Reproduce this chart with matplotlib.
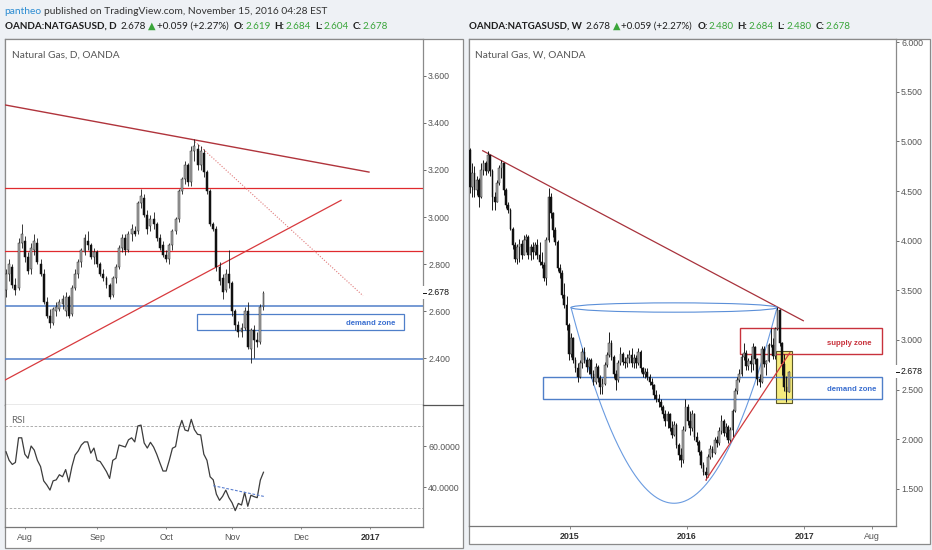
import numpy as np
import pandas as pd
import matplotlib
matplotlib.use("Agg")
import matplotlib.pyplot as plt
from matplotlib.patches import Rectangle, Ellipse
from matplotlib.lines import Line2D
import matplotlib.ticker as mticker

plt.rcParams['font.family'] = ['Liberation Sans', 'DejaVu Sans']

# ---------------- data: daily (left) ----------------
daily_start, daily_end = '2016-07-22', '2016-11-15'
daily_open = [2.69, 2.76, 2.79, 2.71, 2.70, 2.89, 2.90, 2.83, 2.78, 2.86,
              2.89, 2.80, 2.76, 2.64, 2.58, 2.55, 2.60, 2.61, 2.63, 2.60,
              2.66, 2.59, 2.70, 2.76, 2.81, 2.85, 2.90, 2.88, 2.83, 2.85,
              2.80, 2.76, 2.74, 2.71, 2.67, 2.74, 2.79, 2.87, 2.91, 2.86,
              2.93, 2.94, 2.94, 3.06, 3.08, 3.01, 2.96, 2.99, 2.97, 2.91,
              2.88, 2.84, 2.82, 2.88, 2.94, 2.99, 3.11, 3.16, 3.22, 3.15,
              3.28, 3.29, 3.22, 3.27, 3.19, 3.11, 2.97, 2.95, 2.79, 2.74,
              2.69, 2.76, 2.72, 2.60, 2.54, 2.51, 2.53, 2.60, 2.44, 2.52,
              2.48, 2.47, 2.619]
daily_high = [2.78, 2.82, 2.80, 2.74, 2.91, 2.97, 2.92, 2.85, 2.89, 2.93,
              2.91, 2.82, 2.78, 2.66, 2.61, 2.62, 2.64, 2.65, 2.67, 2.68,
              2.67, 2.71, 2.78, 2.82, 2.87, 2.93, 2.94, 2.89, 2.87, 2.86,
              2.81, 2.78, 2.75, 2.72, 2.75, 2.80, 2.88, 2.93, 2.93, 2.94,
              2.97, 2.96, 3.07, 3.12, 3.10, 3.03, 3.01, 3.02, 2.98, 2.93,
              2.90, 2.86, 2.89, 2.95, 3.00, 3.12, 3.17, 3.24, 3.23, 3.30,
              3.33, 3.31, 3.30, 3.29, 3.20, 3.12, 2.98, 2.96, 2.81, 2.76,
              2.78, 2.86, 2.73, 2.61, 2.56, 2.55, 2.62, 2.64, 2.53, 2.54,
              2.51, 2.63, 2.684]
daily_low = [2.66, 2.73, 2.70, 2.67, 2.69, 2.87, 2.81, 2.76, 2.76, 2.84,
             2.80, 2.75, 2.63, 2.57, 2.53, 2.54, 2.58, 2.60, 2.61, 2.58,
             2.57, 2.58, 2.69, 2.74, 2.79, 2.84, 2.86, 2.82, 2.80, 2.79,
             2.75, 2.73, 2.70, 2.65, 2.66, 2.72, 2.78, 2.85, 2.84, 2.85,
             2.90, 2.92, 2.93, 3.04, 3.00, 2.93, 2.94, 2.95, 2.90, 2.86,
             2.83, 2.81, 2.80, 2.86, 2.93, 2.98, 3.10, 3.14, 3.13, 3.13,
             3.24, 3.20, 3.20, 3.17, 3.10, 2.96, 2.94, 2.77, 2.71, 2.65,
             2.68, 2.70, 2.58, 2.52, 2.49, 2.49, 2.52, 2.44, 2.38, 2.40,
             2.45, 2.46, 2.604]
daily_close = [2.76, 2.80, 2.71, 2.69, 2.89, 2.93, 2.83, 2.77, 2.87, 2.90,
               2.81, 2.76, 2.64, 2.58, 2.55, 2.61, 2.62, 2.64, 2.65, 2.66,
               2.58, 2.70, 2.76, 2.81, 2.86, 2.91, 2.88, 2.83, 2.85, 2.80,
               2.76, 2.74, 2.71, 2.66, 2.74, 2.79, 2.87, 2.91, 2.86, 2.93,
               2.95, 2.93, 3.06, 3.09, 3.01, 2.95, 2.99, 2.97, 2.91, 2.87,
               2.84, 2.82, 2.88, 2.94, 2.99, 3.11, 3.16, 3.22, 3.15, 3.28,
               3.30, 3.22, 3.28, 3.19, 3.11, 2.97, 2.95, 2.79, 2.73, 2.68,
               2.76, 2.72, 2.60, 2.54, 2.51, 2.53, 2.60, 2.45, 2.52, 2.48,
               2.47, 2.62, 2.678]
daily_rsi = [57.2, 53.0, 51.0, 52.0, 64.0, 64.0, 56.0, 54.0, 60.0, 58.0,
             53.0, 50.0, 43.0, 41.0, 38.5, 43.0, 43.5, 46.0, 45.0, 48.5,
             42.5, 50.0, 55.6, 57.6, 60.5, 62.0, 62.0, 56.5, 59.0, 53.0,
             52.4, 50.0, 47.5, 44.2, 53.0, 54.0, 60.5, 60.0, 59.5, 63.0,
             64.0, 62.0, 69.8, 70.2, 61.5, 59.0, 61.8, 59.5, 56.0, 51.8,
             47.8, 47.8, 53.0, 58.9, 59.7, 68.0, 72.5, 67.8, 67.3, 73.0,
             68.0, 65.7, 65.4, 56.0, 53.0, 45.0, 43.5, 36.5, 33.5, 35.5,
             38.5, 34.8, 32.3, 28.5, 32.0, 31.2, 37.4, 30.6, 36.0, 35.3,
             34.8, 43.4, 47.2]
daily_month_labels = ['Aug', 'Sep', 'Oct', 'Nov', 'Dec', '2017']
daily_month_starts = ['2016-08-01', '2016-09-01', '2016-10-01', '2016-11-01', '2016-12-01', '2017-01-01']

# ---------------- data: weekly (right) ----------------
weekly_start = '2014-02-24'
weekly_open = [4.91, 4.54, 4.68, 4.51, 4.61, 4.44, 4.71, 4.78, 4.70, 4.86,
               4.70, 4.44, 4.39, 4.58, 4.73, 4.78, 4.51, 4.36, 4.31, 4.12,
               3.96, 3.82, 3.94, 3.97, 3.86, 4.01, 4.04, 3.86, 3.94, 3.89,
               3.96, 3.86, 3.79, 3.76, 3.62, 4.01, 4.44, 4.28, 4.11, 3.99,
               3.72, 3.67, 3.45, 3.35, 3.15, 2.86, 3.02, 2.80, 2.72, 2.63,
               2.77, 2.88, 2.80, 2.73, 2.80, 2.66, 2.58, 2.73, 2.62, 2.53,
               2.56, 2.75, 2.85, 2.97, 2.83, 2.66, 2.60, 2.77, 2.86, 2.78,
               2.77, 2.82, 2.85, 2.77, 2.82, 2.77, 2.88, 2.72, 2.66, 2.68,
               2.63, 2.58, 2.55, 2.45, 2.41, 2.38, 2.33, 2.25, 2.18, 2.25,
               2.11, 2.04, 2.14, 1.94, 1.84, 1.79, 2.09, 2.33, 2.18, 2.11,
               2.25, 2.02, 1.97, 1.87, 1.74, 1.67, 1.64, 1.82, 1.90, 1.86,
               1.99, 1.96, 2.08, 2.18, 2.06, 2.12, 1.99, 2.09, 2.29, 2.49,
               2.60, 2.66, 2.83, 2.87, 2.74, 2.79, 2.76, 2.93, 2.81, 2.61,
               2.58, 2.91, 2.76, 2.79, 2.95, 2.95, 2.84, 3.11, 3.30, 2.97,
               2.76, 2.53, 2.48]
weekly_high = [4.93, 4.78, 4.75, 4.65, 4.63, 4.78, 4.81, 4.80, 4.90, 4.86,
               4.72, 4.49, 4.61, 4.76, 4.81, 4.78, 4.53, 4.39, 4.33, 4.14,
               3.99, 3.97, 4.02, 4.01, 4.06, 4.07, 4.06, 3.97, 3.99, 3.99,
               4.02, 3.99, 3.89, 3.79, 4.04, 4.53, 4.48, 4.29, 4.14, 4.01,
               3.77, 3.70, 3.57, 3.44, 3.17, 3.07, 3.03, 2.83, 2.77, 2.80,
               2.92, 2.93, 2.83, 2.82, 2.82, 2.70, 2.77, 2.75, 2.65, 2.62,
               2.78, 2.88, 3.08, 3.00, 2.85, 2.70, 2.80, 2.93, 2.88, 2.83,
               2.86, 2.90, 2.92, 2.86, 2.85, 2.92, 2.90, 2.73, 2.72, 2.72,
               2.66, 2.62, 2.56, 2.50, 2.46, 2.41, 2.35, 2.30, 2.28, 2.26,
               2.18, 2.18, 2.16, 1.96, 1.91, 2.13, 2.41, 2.36, 2.28, 2.30,
               2.26, 2.07, 1.99, 1.89, 1.77, 1.72, 1.85, 1.94, 1.93, 2.02,
               2.03, 2.12, 2.24, 2.20, 2.16, 2.14, 2.12, 2.31, 2.52, 2.63,
               2.71, 2.86, 2.97, 2.90, 2.82, 2.85, 2.97, 2.94, 2.82, 2.66,
               2.94, 2.94, 2.80, 2.97, 3.12, 3.02, 3.13, 3.33, 3.31, 2.98,
               2.86, 2.64, 2.684]
weekly_low = [4.48, 4.44, 4.44, 4.46, 4.34, 4.43, 4.66, 4.66, 4.68, 4.65,
              4.31, 4.31, 4.39, 4.56, 4.63, 4.46, 4.33, 4.28, 4.11, 3.92,
              3.79, 3.77, 3.79, 3.82, 3.86, 3.89, 3.82, 3.81, 3.82, 3.86,
              3.82, 3.76, 3.72, 3.59, 3.55, 3.99, 4.23, 4.04, 3.96, 3.69,
              3.62, 3.42, 3.32, 3.10, 2.80, 2.83, 2.77, 2.68, 2.58, 2.62,
              2.72, 2.77, 2.68, 2.66, 2.62, 2.55, 2.56, 2.58, 2.46, 2.46,
              2.55, 2.73, 2.83, 2.80, 2.62, 2.50, 2.58, 2.75, 2.75, 2.72,
              2.73, 2.77, 2.73, 2.72, 2.72, 2.75, 2.68, 2.63, 2.62, 2.60,
              2.55, 2.51, 2.41, 2.38, 2.33, 2.30, 2.21, 2.13, 2.11, 2.08,
              2.01, 2.03, 1.91, 1.79, 1.72, 1.76, 2.08, 2.14, 2.04, 2.08,
              1.99, 1.94, 1.84, 1.71, 1.64, 1.59, 1.62, 1.80, 1.82, 1.85,
              1.92, 1.94, 2.05, 2.03, 2.02, 1.96, 1.97, 2.02, 2.27, 2.46,
              2.58, 2.64, 2.80, 2.70, 2.70, 2.68, 2.70, 2.76, 2.55, 2.53,
              2.57, 2.73, 2.65, 2.78, 2.93, 2.81, 2.81, 3.10, 2.94, 2.65,
              2.49, 2.38, 2.48]
weekly_close = [4.54, 4.68, 4.51, 4.61, 4.44, 4.71, 4.78, 4.70, 4.86, 4.70,
                4.44, 4.39, 4.58, 4.73, 4.78, 4.51, 4.36, 4.31, 4.12, 3.96,
                3.82, 3.94, 3.97, 3.86, 4.01, 4.04, 3.86, 3.94, 3.89, 3.96,
                3.86, 3.79, 3.76, 3.62, 4.01, 4.44, 4.28, 4.11, 3.99, 3.72,
                3.67, 3.45, 3.35, 3.15, 2.86, 3.02, 2.80, 2.72, 2.63, 2.77,
                2.88, 2.80, 2.73, 2.80, 2.66, 2.58, 2.73, 2.62, 2.53, 2.56,
                2.75, 2.85, 2.97, 2.83, 2.66, 2.60, 2.77, 2.86, 2.78, 2.77,
                2.82, 2.85, 2.77, 2.82, 2.77, 2.88, 2.72, 2.66, 2.68, 2.63,
                2.58, 2.55, 2.45, 2.41, 2.38, 2.33, 2.25, 2.18, 2.25, 2.11,
                2.04, 2.14, 1.94, 1.84, 1.79, 2.09, 2.33, 2.18, 2.11, 2.25,
                2.02, 1.97, 1.87, 1.74, 1.67, 1.64, 1.82, 1.90, 1.86, 1.99,
                1.96, 2.08, 2.18, 2.06, 2.12, 1.99, 2.09, 2.29, 2.49, 2.60,
                2.66, 2.83, 2.87, 2.74, 2.79, 2.76, 2.93, 2.81, 2.61, 2.58,
                2.91, 2.76, 2.79, 2.95, 2.95, 2.84, 3.11, 3.30, 2.97, 2.76,
                2.53, 2.48, 2.678]
weekly_tick_labels = ['2015', '2016', '2017', 'Aug']
weekly_tick_dates = ['2015-01-01', '2016-01-01', '2017-01-01', '2017-08-01']
daily_price_ticks = [2.4, 2.6, 2.8, 3.0, 3.2, 3.4, 3.6]
weekly_price_ticks = [1.5, 2.0, 2.5, 3.0, 3.5, 4.0, 4.5, 5.0, 5.5, 6.0]
rsi_ticks = [40, 60]
rsi_bands = [30, 70]

# ---------------- figure ----------------
W, H = 932, 550
fig = plt.figure(figsize=(W / 100, H / 100), dpi=100)
fig.patch.set_facecolor('#eef1f5')
renderer = fig.canvas.get_renderer()
GREEN = '#3aa53a'
GREY_TXT = '#555555'
FRAME = '#8a8a8a'
RED_H = '#e02a2e'
RED_T = '#b0343c'
BLUE = '#4f7fc9'


def rect_px(x0, y0, x1, y1):
    return [x0 / W, 1 - y1 / H, (x1 - x0) / W, (y1 - y0) / H]


def frame(x0, y0, x1, y1):
    fig.patches.append(Rectangle((x0 / W, 1 - y1 / H), (x1 - x0) / W, (y1 - y0) / H,
                                 transform=fig.transFigure, facecolor='white',
                                 edgecolor=FRAME, lw=0.9, zorder=-5))


def hline_px(x0, x1, y, color, lw=0.9):
    fig.lines.append(Line2D([x0 / W, x1 / W], [1 - y / H, 1 - y / H], transform=fig.transFigure,
                            color=color, lw=lw, zorder=3))


frame(5, 39, 463, 548)
frame(469, 39, 930, 544)

HF = ['Liberation Sans Narrow', 'Lato', 'DejaVu Sans']


def text_runs(x0, y, parts, target_w, size0=7.0):
    def build(size):
        x = x0
        objs = []
        for s, col, wt, gap in parts:
            t = fig.text(x / W, 1 - y / H, s, fontsize=size, color=col, fontweight=wt,
                         family=HF, ha='left', va='center')
            bb = t.get_window_extent(renderer=renderer)
            x += bb.width + gap * size / size0
            objs.append(t)
        return x - x0, objs
    w, objs = build(size0)
    for o in objs:
        o.remove()
    build(size0 * target_w / w)


# header
text_runs(4, 11, [('pantheo', '#2b8cd2', 'normal', 3),
                  ('published on TradingView.com, November 15, 2016 04:28 EST', '#333333', 'normal', 0)], 324)


def quote_parts(sym, o, h, l, c):
    k = '#1e1e1e'
    return [(sym, k, 'bold', 4), (f'{c:.3f}', k, 'normal', 2), ('\u25B2', GREEN, 'normal', 1),
            ('+0.059 (+2.27%)', k, 'normal', 5),
            ('O:', k, 'bold', 1), (f'{o:.3f}', GREEN, 'normal', 4),
            ('H:', k, 'bold', 1), (f'{h:.3f}', GREEN, 'normal', 4),
            ('L:', k, 'bold', 1), (f'{l:.3f}', GREEN, 'normal', 4),
            ('C:', k, 'bold', 1), (f'{c:.3f}', GREEN, 'normal', 0)]


text_runs(5, 26.5, quote_parts('OANDA:NATGASUSD, D', daily_open[-1], daily_high[-1],
                               daily_low[-1], daily_close[-1]), 383)
text_runs(469, 26.5, quote_parts('OANDA:NATGASUSD, W', weekly_open[-1], weekly_high[-1],
                                 weekly_low[-1], weekly_close[-1]), 385)

# ---------------- axes ----------------
axL = fig.add_axes(rect_px(5, 39, 423, 405))
axS = fig.add_axes(rect_px(5, 405, 423, 527))
axW = fig.add_axes(rect_px(469, 39, 896, 526))

for ax in (axL, axS, axW):
    ax.set_facecolor('white')
    for s in ax.spines.values():
        s.set_color(FRAME)
        s.set_linewidth(0.9)
axL.spines['bottom'].set_color('#555555')
axS.spines['top'].set_visible(False)
axS.spines['bottom'].set_color('#777777')
axW.spines['bottom'].set_color('#777777')
hline_px(423, 463, 405, '#555555')


def candles(ax, x, o, h, l, c, width, wick_lw):
    x = np.asarray(x, float)
    o, h, l, c = (np.asarray(v, float) for v in (o, h, l, c))
    up = c >= o
    ax.vlines(x, l, h, color='#1a1a1a', lw=wick_lw, zorder=4)
    ax.bar(x[up], (c - o)[up], width, bottom=o[up], color='#a9a9a9',
           edgecolor='#2a2a2a', lw=0.35, zorder=5)
    ax.bar(x[~up], (o - c)[~up], width, bottom=c[~up], color='#111111',
           edgecolor='#111111', lw=0.35, zorder=5)


# ----- left daily -----
ddates = pd.bdate_range(daily_start, daily_end)
xi = np.arange(len(ddates))
candles(axL, xi, daily_open, daily_high, daily_low, daily_close, 0.62, 0.6)
axL.set_xlim(-0.32, 132.8)
axL.set_ylim(2.202, 3.756)

axL.axhline(3.122, color=RED_H, lw=0.9, zorder=3)
axL.axhline(2.856, color=RED_H, lw=0.9, zorder=3)
axL.axhline(2.623, color=BLUE, lw=1.1, zorder=3)
axL.axhline(2.396, color=BLUE, lw=1.1, zorder=3)
axL.plot([-0.3, 115.6], [3.476, 3.191], color=RED_T, lw=1.0, zorder=3)
axL.plot([-0.3, 106.7], [2.308, 3.071], color='#d83a3e', lw=0.9, zorder=3)
axL.plot([60.2, 113.7], [3.320, 2.666], color='#e07a7a', lw=0.8, ls=(0, (1, 1.5)), zorder=3)
axL.add_patch(Rectangle((60.8, 2.519), 66.0, 0.069, facecolor='none', edgecolor=BLUE, lw=0.9, zorder=3))
axL.text(116, 2.550, 'demand zone', color='#3b6fd0', fontsize=5.6, fontweight='bold',
         ha='center', va='center', zorder=6)

axL.tick_params(axis='x', bottom=False, labelbottom=False)
axL.yaxis.tick_right()
axL.set_yticks(daily_price_ticks)
axL.yaxis.set_major_formatter(mticker.FuncFormatter(lambda v, p: f'{v:.3f}'))
axL.tick_params(axis='y', direction='out', length=2.2, width=0.6, color='#555555',
                labelsize=6.3, labelcolor=GREY_TXT, pad=1.5)

# RSI
axS.plot(xi, daily_rsi, color='#3c3c3c', lw=0.9, zorder=4)
for b in rsi_bands:
    axS.axhline(b, color='#a0a0a0', lw=0.6, ls=(0, (3, 2)), zorder=2)
axS.plot([66.0, 82.5], [40.65, 35.3], color='#5a7fd0', lw=0.8, ls=(0, (2.5, 1.5)), zorder=5)
axS.set_xlim(-0.32, 132.8)
axS.set_ylim(20.5, 80)
axS.yaxis.tick_right()
axS.set_yticks(rsi_ticks)
axS.yaxis.set_major_formatter(mticker.FuncFormatter(lambda v, p: f'{v:.4f}'))
axS.tick_params(axis='y', direction='out', length=2.2, width=0.6, color='#555555',
                labelsize=6.3, labelcolor=GREY_TXT, pad=1.5)
all_days = pd.bdate_range(daily_start, '2017-03-31')
mpos = [all_days.searchsorted(pd.Timestamp(m)) for m in daily_month_starts]
axS.set_xticks(mpos)
axS.set_xticklabels(daily_month_labels)
axS.tick_params(axis='x', direction='out', length=1.5, width=0.6, color='#777777',
                labelsize=6.4, labelcolor=GREY_TXT, pad=3.0)
for lab in axS.get_xticklabels():
    if lab.get_text().isdigit():
        lab.set_fontweight('bold')
        lab.set_color('#333333')

# ----- right weekly -----
wdates = pd.date_range(weekly_start, periods=len(weekly_close), freq='W-MON')
wi = np.arange(len(wdates))
axW.set_xlim(-0.45, 189.8)
axW.set_ylim(1.127, 6.031)
axW.add_patch(Rectangle((136.3, 2.363), 7.3, 0.526, facecolor='#f6ec7e', edgecolor='#5a5628',
                        lw=0.8, zorder=2))
candles(axW, wi, weekly_open, weekly_high, weekly_low, weekly_close, 0.78, 0.7)
axW.plot([5.66, 148.5], [4.906, 3.194], color='#a8323c', lw=0.9, zorder=3)
axW.plot([105.1, 142.5], [1.590, 2.872], color='#d03a3e', lw=0.9, zorder=6)
axW.add_patch(Ellipse((90.9, 3.327), 91.8, 0.094, facecolor='none', edgecolor='#5b8fd8', lw=0.8, zorder=3))
cx = np.linspace(45.0, 136.8, 200)
cy = 1.356 + (3.327 - 1.356) * ((cx - 90.9) / 45.9) ** 2
axW.plot(cx, cy, color='#6a9be0', lw=0.8, zorder=3)
axW.add_patch(Rectangle((32.65, 2.403), 151.0, 0.227, facecolor='none', edgecolor=BLUE, lw=1.0, zorder=3))
axW.add_patch(Rectangle((120.4, 2.859), 63.3, 0.265, facecolor='none', edgecolor='#c8323c', lw=1.0, zorder=3))
axW.text(169.0, 2.965, 'supply zone', color='#c8323c', fontsize=5.6, fontweight='bold',
         ha='center', va='center', zorder=6)
axW.text(170.0, 2.505, 'demand zone', color='#3b6fd0', fontsize=5.6, fontweight='bold',
         ha='center', va='center', zorder=6)
axW.yaxis.tick_right()
axW.set_yticks(weekly_price_ticks)
axW.yaxis.set_major_formatter(mticker.FuncFormatter(lambda v, p: f'{v:.3f}'))
axW.tick_params(axis='y', direction='out', length=2.2, width=0.6, color='#555555',
                labelsize=6.3, labelcolor=GREY_TXT, pad=1.5)
wpos = [(pd.Timestamp(d) - wdates[0]).days / 7 for d in weekly_tick_dates]
axW.set_xticks(wpos)
axW.set_xticklabels(weekly_tick_labels)
axW.tick_params(axis='x', direction='out', length=2.2, width=0.6, color='#777777',
                labelsize=6.4, labelcolor=GREY_TXT, pad=2.2)
for lab in axW.get_xticklabels():
    if lab.get_text().isdigit():
        lab.set_fontweight('bold')
        lab.set_color('#333333')

# pane titles
text_runs(12, 55, [('Natural Gas, D, OANDA', '#555555', 'normal', 0)], 108.5)
text_runs(475, 55, [('Natural Gas, W, OANDA', '#555555', 'normal', 0)], 111.5)
fig.text(11 / W, 1 - 420.5 / H, 'RSI', family=HF, fontsize=7.0, color='#666666',
         ha='left', va='center', zorder=6)


# last price markers
def last_marker(ax, val, x_axis_px):
    ypx = ax.transData.transform((0, val))[1]
    yt = H - ypx
    fig.patches.append(Rectangle(((x_axis_px - 1.5) / W, 1 - (yt + 6.5) / H), 30 / W, 13 / H,
                                 transform=fig.transFigure, facecolor='white', edgecolor='none', zorder=8))
    fig.lines.append(Line2D([x_axis_px / W, (x_axis_px + 3) / W], [1 - yt / H, 1 - yt / H],
                            transform=fig.transFigure, color='#111111', lw=0.7, zorder=9))
    fig.text((x_axis_px + 5) / W, 1 - yt / H, f'{val:.3f}', fontsize=6.3, color='#111111',
             ha='left', va='center', zorder=9)


fig.canvas.draw()
last_marker(axL, daily_close[-1], 423)
last_marker(axW, weekly_close[-1], 896)

fig.savefig('out.png', dpi=100, facecolor=fig.get_facecolor())
